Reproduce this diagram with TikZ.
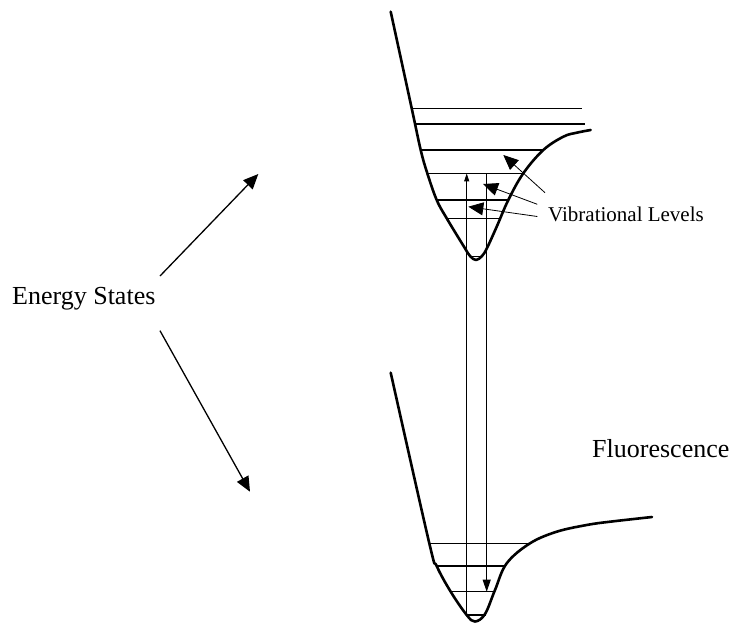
\documentclass[tikz,border=0pt]{standalone}
\usepackage{fontspec}
\setmainfont{Liberation Serif}
\usetikzlibrary{arrows.meta}

\begin{document}
\begin{tikzpicture}[x=1pt,y=-1pt,
  curve/.style={line width=2.6pt, line cap=round, line join=round},
  level/.style={line width=1.3pt},
  trans/.style={line width=0.9pt},
  pointer/.style={line width=0.8pt, -{Triangle[length=15pt,width=13pt]}},
  bigtext/.style={inner sep=0pt, anchor=base west, font=\fontsize{26}{30}\selectfont},
  smalltext/.style={inner sep=0pt, anchor=base west, font=\fontsize{21}{25}\selectfont}]
  \useasboundingbox (0,0) rectangle (735,624);

  % potential curves
  \draw[curve] plot[smooth, tension=0.6] coordinates {(390.7,11.7) (411.7,108.3) (420.7,150)
    (427.3,173.3) (436.7,200) (446.7,218.3) (464,246.7) (470,256) (476,260) (482,256)
    (487,248) (496.7,226.7) (508.3,200) (523.3,173.3) (543.3,150) (563.3,136.7)
    (576.7,132.7) (590.7,130)};
  \draw[curve] plot[smooth, tension=0.6] coordinates {(390.7,372.7) (429.3,543.3) (436.7,566)
    (450.7,591.7) (466.7,615) (475,621.5) (485,614) (495,590) (506.7,563.3) (530,543.3)
    (556.7,531.7) (586.7,525) (610,521.7) (652,517)};

  % vibrational levels
  \foreach \y/\a/\b in {108.3/411.7/581.7, 124/415/585, 150/420.7/544, 173.3/427.3/523.5,
      200/436.5/508.5, 218.3/446/499, 256.7/469/482.5,
      543.3/429.3/530, 566/436.7/506, 591.7/450.7/494.5, 615/467/485.5}
    \draw[level] (\a,\y) -- (\b,\y);

  % transitions
  \coordinate (g4) at (466.7,615);
  \coordinate (e4) at (466.7,173.3);
  \coordinate (e4r) at (486.7,173.3);
  \coordinate (g3) at (486.7,591.7);
  \draw[trans, -{Triangle[length=8pt,width=5pt]}] (g4) -- (e4);
  \draw[trans, -{Triangle[length=12pt,width=8pt]}] (e4r) -- (g3);

  % labels
  \node[bigtext] (energy) at (12,304) {Energy States};
  \node[bigtext] (fluor) at (592,457) {Fluorescence};
  \node[smalltext] (vib) at (548,221.7) {Vibrational Levels};

  \coordinate (es1) at (160,276);
  \coordinate (es2) at (160,330.7);
  \coordinate (upper) at (258.3,174);
  \coordinate (lower) at (250,491.7);
  \draw[pointer, line width=1.3pt] (es1) -- (upper);
  \draw[pointer, line width=1.3pt] (es2) -- (lower);

  \coordinate (vs1) at (545,192.7);
  \coordinate (vs2) at (537.3,204.3);
  \coordinate (vs3) at (537.3,216.5);
  \coordinate (v1) at (503.3,155);
  \coordinate (v2) at (483,184);
  \coordinate (v3) at (468.3,206.7);
  \draw[pointer] (vs1) -- (v1);
  \draw[pointer] (vs2) -- (v2);
  \draw[pointer] (vs3) -- (v3);
\end{tikzpicture}
\end{document}
